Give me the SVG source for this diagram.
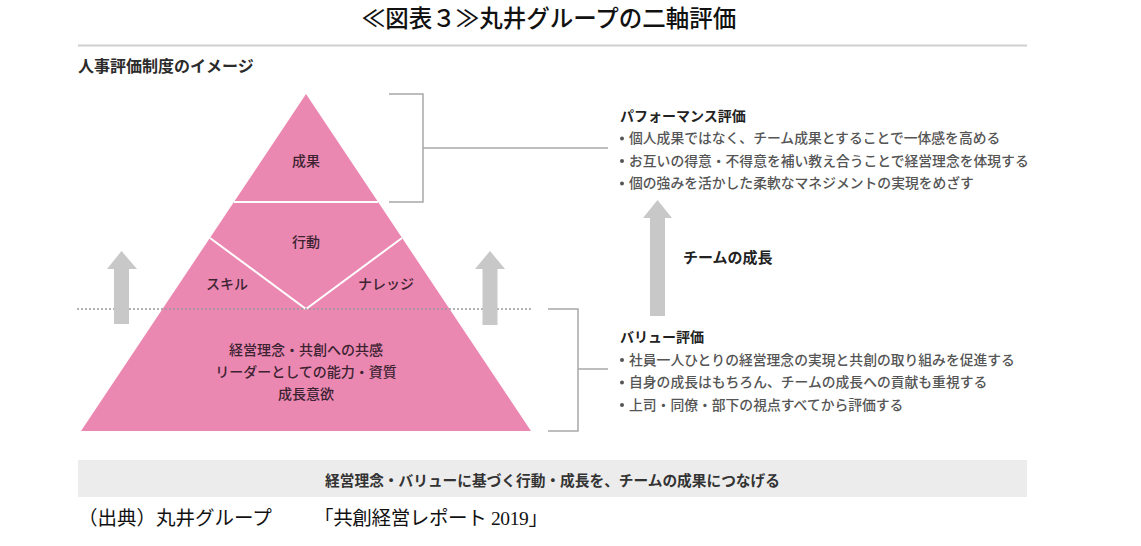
<svg xmlns="http://www.w3.org/2000/svg" width="1141" height="546" viewBox="0 0 1141 546">
<style>
.jp{font-family:"Noto Sans CJK JP","Noto Sans",sans-serif;}
.title{font-size:23.5px;font-weight:500;fill:#111;}
.hdr{font-size:16px;font-weight:bold;fill:#2b2b2b;}
.pt{font-size:14px;fill:#3d2331;text-anchor:middle;font-weight:500;}
.h2{font-size:14px;font-weight:bold;fill:#222;}
.bl{font-size:13.8px;fill:#555;font-weight:500;}
.dot{fill:#555;}
.brk{fill:none;stroke:#a8a8a8;stroke-width:1.5;}
.arr{fill:#c8c8c8;}
.band{font-size:14.7px;font-weight:bold;fill:#333;text-anchor:middle;}
.cap{font-family:"Liberation Serif","Noto Sans CJK JP",serif;font-size:19.5px;fill:#111;}
</style>
<rect width="1141" height="546" fill="#ffffff"/>
<text class="jp title" x="549" y="27" text-anchor="middle">≪図表３≫丸井グループの二軸評価</text>
<line x1="78" y1="45.5" x2="1027" y2="45.5" stroke="#cfcfcf" stroke-width="2"/>
<text class="jp hdr" x="78" y="72">人事評価制度のイメージ</text>

<g id="pyramid">
<polygon points="306,94 531,431 81,431" fill="#eb88b2"/>
<line x1="234" y1="202" x2="378" y2="202" stroke="#ffffff" stroke-width="2"/>
<polyline points="210,238 306,309 402,238" fill="none" stroke="#ffffff" stroke-width="2"/>
</g>
<g id="dotted">
<line x1="77" y1="309" x2="533" y2="309" stroke="#9a9a9a" stroke-width="1.5" stroke-dasharray="2 2"/>
</g>
<g id="node-result"><text class="jp pt" x="306" y="166">成果</text></g>
<g id="node-action"><text class="jp pt" x="306" y="247">行動</text></g>
<g id="node-skill"><text class="jp pt" x="227" y="289">スキル</text></g>
<g id="node-knowledge"><text class="jp pt" x="386" y="289">ナレッジ</text></g>
<g id="node-base">
<text class="jp pt" x="306" y="355">経営理念・共創への共感</text>
<text class="jp pt" x="306" y="377">リーダーとしての能力・資質</text>
<text class="jp pt" x="306" y="399">成長意欲</text>
</g>

<g id="arrows">
<polygon class="arr" points="121.5,251 137,269 129,269 129,324 114,324 114,269 107,269"/>
<polygon class="arr" points="490,251 505,269 497.5,269 497.5,325 482.5,325 482.5,269 475,269"/>
<polygon class="arr" points="657.5,200 672,218 665,218 665,316 650,316 650,218 643,218"/>
</g>

<g id="connectors">
<polyline class="brk" points="389,94 423,94 423,202 389,202"/>
<line class="brk" x1="423" y1="148" x2="608" y2="148"/>
<polyline class="brk" points="548,309 578,309 578,431 548,431"/>
<line class="brk" x1="578" y1="369" x2="608" y2="369"/>
</g>

<g id="node-performance">
<text class="jp h2" x="620" y="121">パフォーマンス評価</text>
<circle class="dot" cx="622" cy="138.5" r="2"/>
<text class="jp bl" x="629" y="143">個人成果ではなく、チーム成果とすることで一体感を高める</text>
<circle class="dot" cx="622" cy="161" r="2"/>
<text class="jp bl" x="629" y="166">お互いの得意・不得意を補い教え合うことで経営理念を体現する</text>
<circle class="dot" cx="622" cy="183.5" r="2"/>
<text class="jp bl" x="629" y="188">個の強みを活かした柔軟なマネジメントの実現をめざす</text>
</g>

<g id="node-team">
<text class="jp h2" x="683" y="263" style="font-size:15px">チームの成長</text>
</g>

<g id="node-value">
<text class="jp h2" x="620" y="342">バリュー評価</text>
<circle class="dot" cx="622" cy="360" r="2"/>
<text class="jp bl" x="629" y="364.5">社員一人ひとりの経営理念の実現と共創の取り組みを促進する</text>
<circle class="dot" cx="622" cy="382.5" r="2"/>
<text class="jp bl" x="629" y="387">自身の成長はもちろん、チームの成長への貢献も重視する</text>
<circle class="dot" cx="622" cy="405" r="2"/>
<text class="jp bl" x="629" y="409.5">上司・同僚・部下の視点すべてから評価する</text>
</g>

<g id="node-band">
<rect x="78" y="460" width="949" height="37" fill="#ececec"/>
<text class="jp band" x="552.5" y="486">経営理念・バリューに基づく行動・成長を、チームの成果につなげる</text>
</g>

<text class="cap" x="78" y="525">（出典）丸井グループ</text>
<text class="cap" x="314" y="525" textLength="234" lengthAdjust="spacing">「共創経営レポート 2019」</text>
</svg>
